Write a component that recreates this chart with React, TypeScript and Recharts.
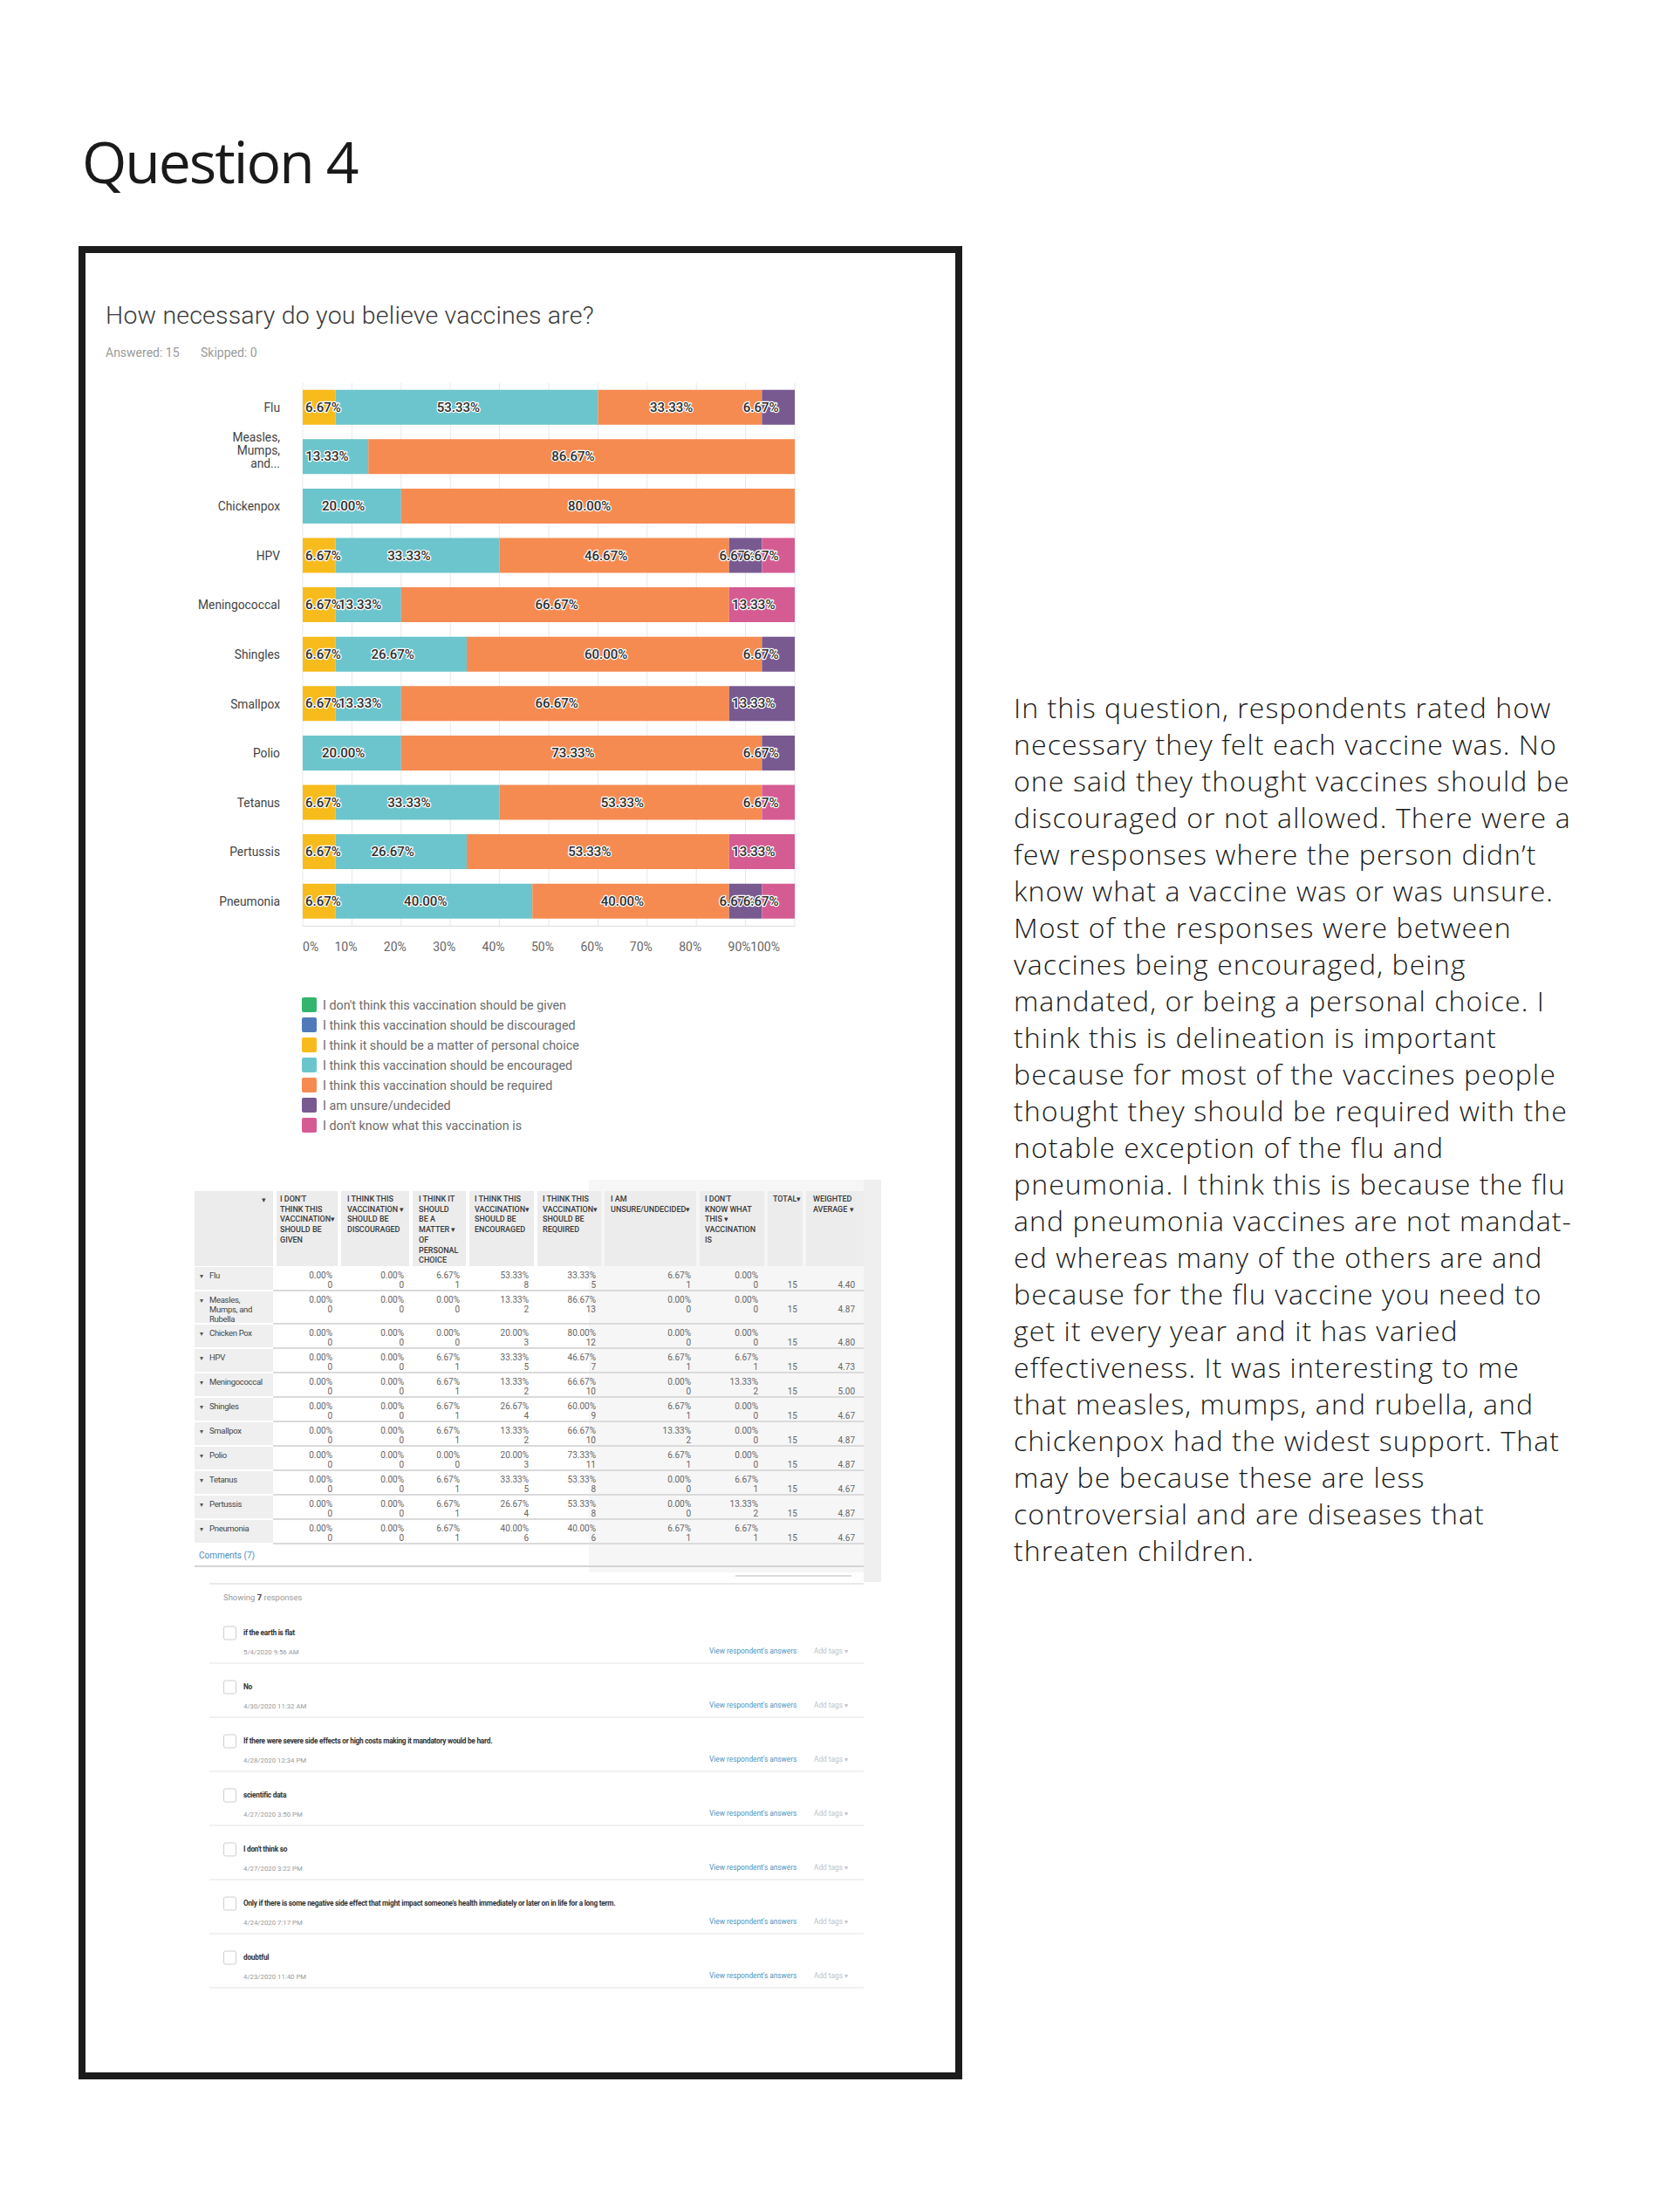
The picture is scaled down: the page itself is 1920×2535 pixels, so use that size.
import React from 'react';
import { BarChart, Bar, XAxis, YAxis, CartesianGrid, Legend, LabelList } from 'recharts';

// ---- chart data (percent of 15 respondents) ----
const categories = ['Flu', 'Measles, Mumps, and...', 'Chickenpox', 'HPV', 'Meningococcal', 'Shingles', 'Smallpox', 'Polio', 'Tetanus', 'Pertussis', 'Pneumonia'];
const notGiven = [0, 0, 0, 0, 0, 0, 0, 0, 0, 0, 0];
const discouraged = [0, 0, 0, 0, 0, 0, 0, 0, 0, 0, 0];
const personalChoice = [6.67, 0, 0, 6.67, 6.67, 6.67, 6.67, 0, 6.67, 6.67, 6.67];
const encouraged = [53.33, 13.33, 20.0, 33.33, 13.33, 26.67, 13.33, 20.0, 33.33, 26.67, 40.0];
const required = [33.33, 86.67, 80.0, 46.67, 66.67, 60.0, 66.67, 73.33, 53.33, 53.33, 40.0];
const unsure = [6.67, 0, 0, 6.67, 0, 6.67, 13.33, 6.67, 0, 0, 6.67];
const dontKnow = [0, 0, 0, 6.67, 13.33, 0, 0, 0, 6.67, 13.33, 6.67];

const answerNames = [
  "I don't think this vaccination should be given",
  'I think this vaccination should be discouraged',
  'I think it should be a matter of personal choice',
  'I think this vaccination should be encouraged',
  'I think this vaccination should be required',
  'I am unsure/undecided',
  "I don't know what this vaccination is",
];
const xTicks = [0, 10, 20, 30, 40, 50, 60, 70, 80, 90, 100];

// ---- table data ----
const tableRows = ['Flu', 'Measles, Mumps, and Rubella', 'Chicken Pox', 'HPV', 'Meningococcal', 'Shingles', 'Smallpox', 'Polio', 'Tetanus', 'Pertussis', 'Pneumonia'];
const countNotGiven = [0, 0, 0, 0, 0, 0, 0, 0, 0, 0, 0];
const countDiscouraged = [0, 0, 0, 0, 0, 0, 0, 0, 0, 0, 0];
const countPersonal = [1, 0, 0, 1, 1, 1, 1, 0, 1, 1, 1];
const countEncouraged = [8, 2, 3, 5, 2, 4, 2, 3, 5, 4, 6];
const countRequired = [5, 13, 12, 7, 10, 9, 10, 11, 8, 8, 6];
const countUnsure = [1, 0, 0, 1, 0, 1, 2, 1, 0, 0, 1];
const countDontKnow = [0, 0, 0, 1, 2, 0, 0, 0, 1, 2, 1];
const totals = [15, 15, 15, 15, 15, 15, 15, 15, 15, 15, 15];
const weightedAvg = ['4.40', '4.87', '4.80', '4.73', '5.00', '4.67', '4.87', '4.87', '4.67', '4.87', '4.67'];
const headerLines = [
  ["I DON'T", 'THINK THIS', 'VACCINATION\u25BE', 'SHOULD BE', 'GIVEN'],
  ['I THINK THIS', 'VACCINATION \u25BE', 'SHOULD BE', 'DISCOURAGED'],
  ['I THINK IT', 'SHOULD', 'BE A', 'MATTER \u25BE', 'OF', 'PERSONAL', 'CHOICE'],
  ['I THINK THIS', 'VACCINATION\u25BE', 'SHOULD BE', 'ENCOURAGED'],
  ['I THINK THIS', 'VACCINATION\u25BE', 'SHOULD BE', 'REQUIRED'],
  ['I AM', 'UNSURE/UNDECIDED\u25BE'],
  ["I DON'T", 'KNOW WHAT', 'THIS \u25BE', 'VACCINATION', 'IS'],
  ['TOTAL\u25BE'],
  ['WEIGHTED', 'AVERAGE \u25BE'],
];

// ---- comments ----
const commentTexts = [
  'if the earth is flat',
  'No',
  'If there were severe side effects or high costs making it mandatory would be hard.',
  'scientific data',
  "I don't think so",
  "Only if there is some negative side effect that might impact someone's health immediately or later on in life for a long term.",
  'doubtful',
];
const commentDates = ['5/4/2020 9:56 AM', '4/30/2020 11:32 AM', '4/28/2020 12:34 PM', '4/27/2020 3:50 PM', '4/27/2020 3:22 PM', '4/24/2020 7:17 PM', '4/23/2020 11:40 PM'];

const paragraph = [
  'In this question, respondents rated how',
  'necessary they felt each vaccine was. No',
  'one said they thought vaccines should be',
  'discouraged or not allowed. There were a',
  'few responses where the person didn\u2019t',
  'know what a vaccine was or was unsure.',
  'Most of the responses were between',
  'vaccines being encouraged, being',
  'mandated, or being a personal choice. I',
  'think this is delineation is important',
  'because for most of the vaccines people',
  'thought they should be required with the',
  'notable exception of the flu and',
  'pneumonia. I think this is because the flu',
  'and pneumonia vaccines are not mandat-',
  'ed whereas many of the others are and',
  'because for the flu vaccine you need to',
  'get it every year and it has varied',
  'effectiveness. It was interesting to me',
  'that measles, mumps, and rubella, and',
  'chickenpox had the widest support. That',
  'may be because these are less',
  'controversial and are diseases that',
  'threaten children.',
];

const seriesKeys = ['given', 'discouraged', 'personal', 'encouraged', 'required', 'unsure', 'dontKnow'];
const seriesColors = ['#34b56d', '#4f7bbb', '#f8bb1c', '#6cc5cd', '#f68b52', '#785a91', '#d55c93'];

const chartData = categories.map((name, i) => ({
  name,
  given: notGiven[i],
  discouraged: discouraged[i],
  personal: personalChoice[i],
  encouraged: encouraged[i],
  required: required[i],
  unsure: unsure[i],
  dontKnow: dontKnow[i],
}));

const tablePct = [notGiven, discouraged, personalChoice, encouraged, required, unsure, dontKnow];
const tableCounts = [countNotGiven, countDiscouraged, countPersonal, countEncouraged, countRequired, countUnsure, countDontKnow];

const FONT = 'Roboto, sans-serif';
const PLOT_LEFT = 147;
const PLOT_RIGHT = 711;

const BarValueLabel = (props: any) => {
  const { x, y, width, height, value } = props;
  if (!value) return null;
  const label = `${Number(value).toFixed(2)}%`;
  const textW = (label.length - 2) * 8.4 + 15;
  let left = x + width / 2 - 10 - textW / 2;
  if (left < PLOT_LEFT + 3) left = PLOT_LEFT + 3;
  if (left + textW > PLOT_RIGHT - 19) left = PLOT_RIGHT - 19 - textW;
  return (
    <text x={left} y={y + height / 2} dominantBaseline="central" fontFamily={FONT} fontSize={15} fontWeight={500}
      fill="#2e2e2e" stroke="#fff" strokeWidth={2.5} strokeLinejoin="round" paintOrder="stroke">
      {label}
    </text>
  );
};

const CategoryTick = (props: any) => {
  const { x, y, payload } = props;
  const label: string = payload.value;
  const lines = label.length > 14 ? label.split(' ') : [label];
  const start = y - ((lines.length - 1) * 15) / 2 - (lines.length > 1 ? 8 : 0);
  return (
    <text textAnchor="end" fontFamily={FONT} fontSize={13.8} fill="#444">
      {lines.map((l, i) => (
        <tspan key={i} x={x - 18} y={start + i * 15} dominantBaseline="central">{l}</tspan>
      ))}
    </text>
  );
};

const PercentTick = (props: any) => {
  const { x, y, payload } = props;
  const v = payload.value;
  let anchor = 'middle';
  let dx = -7;
  if (v === 0) { anchor = 'start'; dx = 0; }
  if (v === 100) { anchor = 'end'; dx = -17; }
  return (
    <text x={x + dx} y={y + 22} textAnchor={anchor} dominantBaseline="central" fontFamily={FONT} fontSize={14} fill="#666">
      {v}%
    </text>
  );
};

const LegendList = (props: any) => {
  const items = [...(props.payload || [])].sort(
    (a: any, b: any) => answerNames.indexOf(a.value) - answerNames.indexOf(b.value),
  );
  return (
    <div style={{ fontFamily: FONT, fontSize: 14.3, color: '#6b6b6b' }}>
      {items.map((entry: any, i: number) => (
        <div key={i} style={{ display: 'flex', alignItems: 'center', height: 23 }}>
          <span style={{ display: 'inline-block', width: 17, height: 17, borderRadius: 2, background: entry.color, marginRight: 7 }} />
          <span>{entry.value}</span>
        </div>
      ))}
    </div>
  );
};

const VaccineChart = () => (
  <BarChart width={740} height={900} data={chartData} layout="vertical" barSize={40}
    margin={{ top: 18.7, right: 29, bottom: 228.7, left: 0 }}>
    <CartesianGrid horizontal={false} stroke="#e8e8e8" />
    <XAxis type="number" domain={[0, 100]} ticks={xTicks} allowDataOverflow axisLine={{ stroke: '#dcdcdc' }}
      tickLine={false} tickSize={0} tick={<PercentTick />} height={30} />
    <YAxis type="category" dataKey="name" width={147} axisLine={false} tickLine={false} tick={<CategoryTick />} interval={0} />
    <Legend layout="vertical" align="center" verticalAlign="middle" content={<LegendList />}
      wrapperStyle={{ left: 146, top: 720, width: 420, height: 170 }} />
    {seriesKeys.map((key, i) => (
      <Bar key={key} dataKey={key} name={answerNames[i]} stackId="a" fill={seriesColors[i]} isAnimationActive={false}>
        <LabelList dataKey={key} content={<BarValueLabel />} />
      </Bar>
    ))}
  </BarChart>
);

const COLS = [
  { x0: 317, x1: 387, tl: 321, vr: 381 },
  { x0: 391, x1: 469, tl: 398, vr: 463 },
  { x0: 473, x1: 534, tl: 480, vr: 527 },
  { x0: 538, x1: 612, tl: 544, vr: 606 },
  { x0: 616, x1: 689, tl: 622, vr: 683 },
  { x0: 693, x1: 798, tl: 700, vr: 792 },
  { x0: 802, x1: 876, tl: 808, vr: 869 },
  { x0: 880, x1: 920, tl: 886, vr: 914 },
  { x0: 924, x1: 990, tl: 932, vr: 980 },
];

export default function App() {
  let rowTop = 1452;
  const rowGeom = tableRows.map((_, i) => {
    const h = i === 1 ? 38 : 28;
    const g = { top: rowTop, h };
    rowTop += h;
    return g;
  });

  return (
    <div style={{ position: 'absolute', left: 0, top: 0, width: 1920, height: 2535, background: '#fff' }}>
      <svg width={1920} height={2535} style={{ position: 'absolute', left: 0, top: 0 }}>
        <text x={94} y={210} fontFamily="'Open Sans', sans-serif" fontSize={66} letterSpacing={-2} fill="#1a1a1a">Question 4</text>
        <rect x={94} y={286} width={1005} height={2093} fill="#fff" stroke="#1c1c1c" strokeWidth={8} />

        <text x={121} y={371} fontFamily={FONT} fontWeight={300} fontSize={28.5} letterSpacing={0.2} fill="#3a3a3a">How necessary do you believe vaccines are?</text>
        <text x={121} y={409} fontFamily={FONT} fontSize={14} fill="#9a9a9a">Answered: 15</text>
        <text x={230} y={409} fontFamily={FONT} fontSize={14} fill="#9a9a9a">Skipped: 0</text>

        {/* table */}
        <rect x={675} y={1352} width={315} height={450} fill="#f6f6f6" />
        <rect x={990} y={1352} width={20} height={461} fill="#efefef" />
        <rect x={223} y={1365} width={90} height={86} fill="#ececec" />
        <text x={305} y={1378} textAnchor="end" fontSize={9} fill="#444" fontFamily={FONT}>{'\u25BE'}</text>
        {COLS.map((c, ci) => (
          <g key={ci}>
            <rect x={c.x0} y={1365} width={c.x1 - c.x0} height={86} fill="#ececec" />
            {headerLines[ci].map((l, li) => (
              <text key={li} x={c.tl} y={1377 + li * 11.7} fontFamily={FONT} fontWeight={500} fontSize={9} fill="#3a3a3a">{l}</text>
            ))}
          </g>
        ))}
        {tableRows.map((row, ri) => {
          const g = rowGeom[ri];
          const labelLines = ri === 1 ? ['Measles,', 'Mumps, and', 'Rubella'] : [row];
          return (
            <g key={ri}>
              <rect x={223} y={g.top} width={90} height={g.h - 2} fill="#efefef" />
              <line x1={313} x2={990} y1={g.top + g.h - 1} y2={g.top + g.h - 1} stroke="#dadada" strokeWidth={2} />
              <text x={229} y={g.top + 12.5} fontSize={8} fill="#555" fontFamily={FONT}>{'\u25BE'}</text>
              {labelLines.map((l, li) => (
                <text key={li} x={240} y={g.top + 12.5 + li * 11} fontFamily={FONT} fontSize={9.5} letterSpacing={-0.3} fill="#444">{l}</text>
              ))}
              {tablePct.map((arr, ci) => (
                <g key={ci}>
                  <text x={COLS[ci].vr} y={g.top + 12.5} textAnchor="end" fontFamily={FONT} fontSize={10} fill="#666">{arr[ri].toFixed(2)}%</text>
                  <text x={COLS[ci].vr} y={g.top + 23.5} textAnchor="end" fontFamily={FONT} fontSize={10} fill="#666">{tableCounts[ci][ri]}</text>
                </g>
              ))}
              <text x={COLS[7].vr} y={g.top + 23.5} textAnchor="end" fontFamily={FONT} fontSize={10} fill="#666">{totals[ri]}</text>
              <text x={COLS[8].vr} y={g.top + 23.5} textAnchor="end" fontFamily={FONT} fontSize={10} fill="#666">{weightedAvg[ri]}</text>
            </g>
          );
        })}

        {/* comments */}
        <text x={228} y={1786} fontFamily={FONT} fontSize={10} fill="#4b8dbd">Comments (7)</text>
        <line x1={223} x2={990} y1={1795} y2={1795} stroke="#d5d5d5" strokeWidth={2} />
        <line x1={843} x2={976} y1={1806} y2={1806} stroke="#cfcfcf" strokeWidth={1.5} />
        <line x1={240} x2={990} y1={1815} y2={1815} stroke="#e3e3e3" strokeWidth={1.5} />
        <text x={256} y={1834} fontFamily={FONT} fontSize={9.5} fill="#9a9a9a">
          Showing <tspan fontWeight={700} fill="#444">7</tspan> responses
        </text>
        {commentTexts.map((c, i) => {
          const y = 1871 + i * 62;
          return (
            <g key={i}>
              <rect x={256.5} y={y - 7} width={14} height={15} rx={2} fill="#fff" stroke="#cfcfcf" strokeWidth={1} />
              <text x={279} y={y + 3} fontFamily={FONT} fontWeight={700} fontSize={8.3} letterSpacing={-0.25} fill="#333">{c}</text>
              <text x={279} y={y + 25} fontFamily={FONT} fontSize={7.8} fill="#999">{commentDates[i]}</text>
              <text x={813} y={y + 24} fontFamily={FONT} fontSize={8.3} fill="#4f93bd">View respondent's answers</text>
              <text x={933} y={y + 24} fontFamily={FONT} fontSize={8.3} fill="#c2c2c2">Add tags {'\u25BE'}</text>
              <line x1={240} x2={990} y1={y + 35} y2={y + 35} stroke="#ececec" strokeWidth={1.5} />
            </g>
          );
        })}

        {/* commentary */}
        {paragraph.map((l, i) => (
          <text key={i} x={1162} y={823 + i * 42} fontFamily="'Open Sans', sans-serif" fontWeight={300} fontSize={32}
            letterSpacing={1.1} fill="#1a1a1a">{l}</text>
        ))}
      </svg>
      <div style={{ position: 'absolute', left: 200, top: 420, width: 740, height: 900 }}>
        <VaccineChart />
      </div>
    </div>
  );
}
